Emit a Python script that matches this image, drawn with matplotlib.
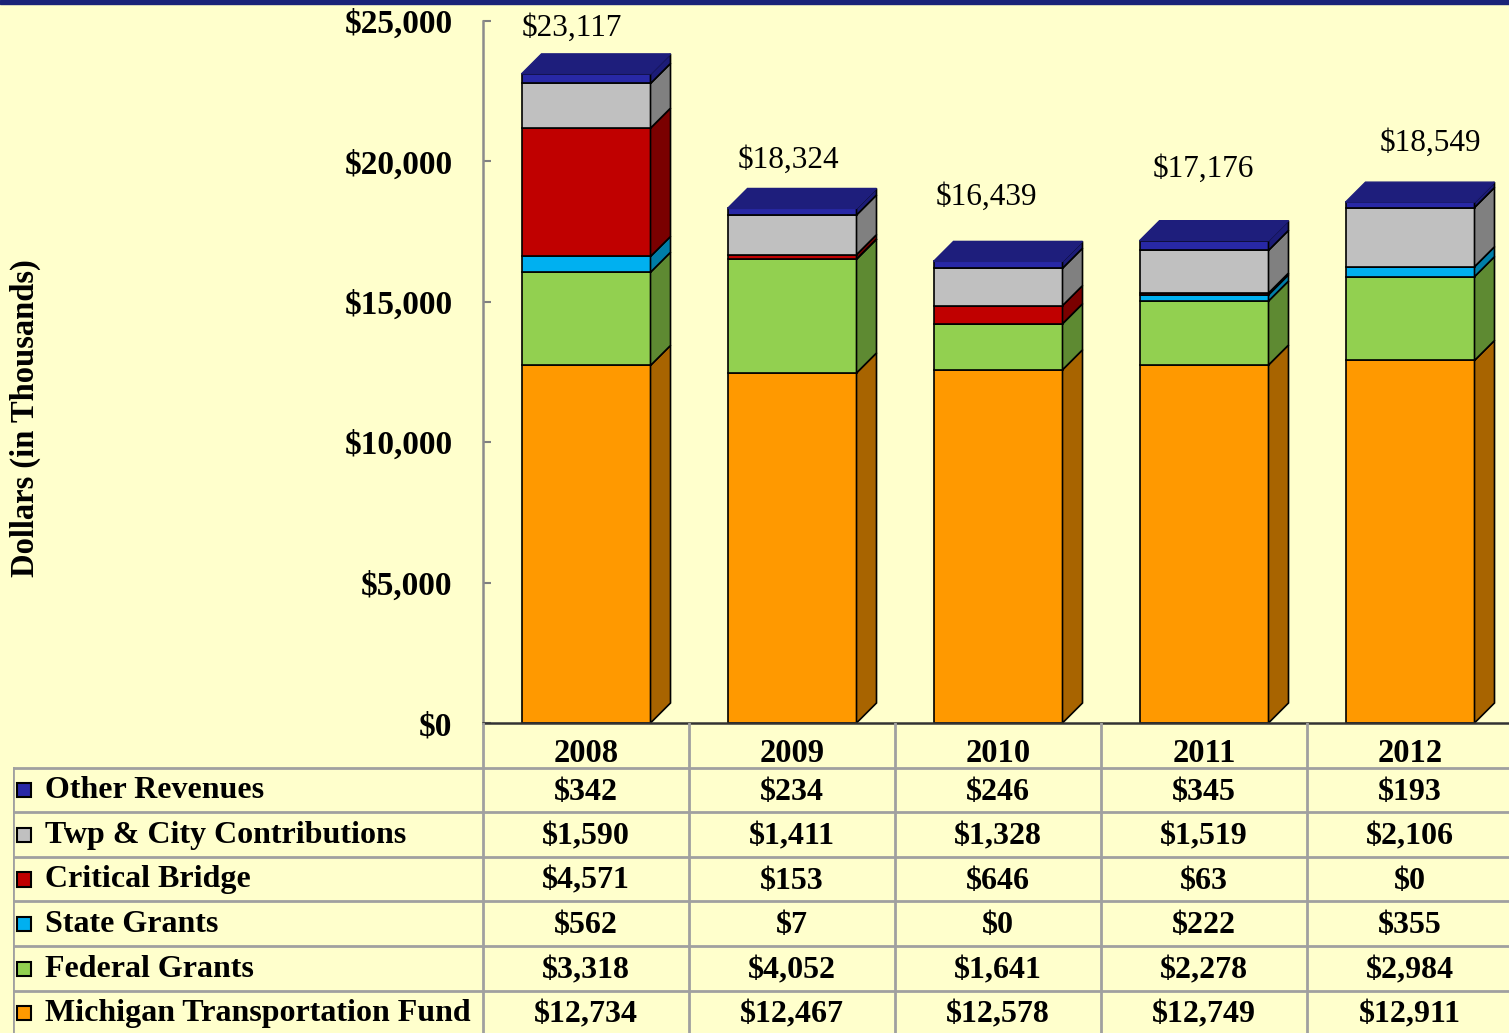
import matplotlib.pyplot as plt
from matplotlib.patches import Polygon, Rectangle

# values in thousands of dollars
years = ['2008', '2009', '2010', '2011', '2012']
michigan_fund = [12734, 12467, 12578, 12749, 12911]
federal_grants = [3318, 4052, 1641, 2278, 2984]
state_grants = [562, 7, 0, 222, 355]
critical_bridge = [4571, 153, 646, 63, 0]
twp_city = [1590, 1411, 1328, 1519, 2106]
other_revenues = [342, 234, 246, 345, 193]

# stacking order bottom -> top: (name, values, front colour, side colour)
series = [
    ('Michigan Transportation Fund', michigan_fund, '#FF9900', '#A86400'),
    ('Federal Grants', federal_grants, '#92D050', '#5E8A32'),
    ('State Grants', state_grants, '#00B0F0', '#007EA8'),
    ('Critical Bridge', critical_bridge, '#C00000', '#7A0000'),
    ('Twp & City Contributions', twp_city, '#C0C0C0', '#808080'),
    ('Other Revenues', other_revenues, '#2828A6', '#1C1C78'),
]
top_colour = '#1E1E7C'
bg = '#FFFFCC'

W, H = 1509, 1033
fig = plt.figure(figsize=(W / 100, H / 100), dpi=100, facecolor=bg)
plt.rcParams['font.family'] = ['Liberation Serif', 'DejaVu Serif']

# pixel layout of the plot area
left_px, floor_px, top_px, col_px = 483, 723, 21, 206
ax = fig.add_axes([left_px / W, (H - floor_px) / H, 5 * col_px / W, (floor_px - top_px) / H])
ax.set_facecolor('none')
ax.set_xlim(0, 5)
ax.set_ylim(0, 25000)

bar_w = 129 / col_px
dx = 20 / col_px
dy = 20 * 25000 / (floor_px - top_px)
xs = [i + 0.5 for i in range(len(years))]

bottoms = [0] * len(years)
for name, vals, front, side in series:
    ax.bar(xs, vals, width=bar_w, bottom=bottoms, color=front, edgecolor='black', linewidth=1.2, zorder=3)
    for x, b, v in zip(xs, bottoms, vals):
        x1 = x + bar_w / 2
        ax.add_patch(Polygon([(x1, b), (x1 + dx, b + dy), (x1 + dx, b + v + dy), (x1, b + v)],
                             closed=True, facecolor=side, edgecolor='black', linewidth=1.2, zorder=3))
    bottoms = [b + v for b, v in zip(bottoms, vals)]

for x, t in zip(xs, bottoms):
    x0 = x - bar_w / 2
    ax.add_patch(Polygon([(x0, t), (x0 + dx, t + dy), (x0 + bar_w + dx, t + dy), (x0 + bar_w, t)],
                         closed=True, facecolor=top_colour, edgecolor=top_colour, linewidth=1, zorder=4))

# total labels, nudged as in the original
label_nudges = [(-14, 46), (-4, 48), (-12, 64), (-1, 71), (20, 59)]
for x, t, (ox, oy) in zip(xs, bottoms, label_nudges):
    ax.annotate(f'${t:,.0f}', (x, t), xytext=(ox, oy), textcoords='offset pixels',
                ha='center', va='center', fontsize=22.5)

ax.set_yticks(range(0, 25001, 5000))
ax.set_yticklabels([f'${v:,}' for v in range(0, 25001, 5000)], fontsize=24, fontweight='bold')
ax.tick_params(axis='y', direction='in', length=6, width=1.5, color='#808080', pad=22)
ax.set_xticks([])
for s in ['top', 'right']:
    ax.spines[s].set_visible(False)
ax.spines['left'].set_color('#8C8C8C')
ax.spines['left'].set_linewidth(1.8)
ax.spines['bottom'].set_color('#333333')
ax.spines['bottom'].set_linewidth(1.8)
ax.spines['bottom'].set_zorder(5)

fig.text(25 / W, 1 - 418 / H, 'Dollars (in Thousands)', rotation=90, ha='center', va='center',
         fontsize=23.5, fontweight='bold')

# data table below the chart
row_px = 44.6
tab_left = 13
tab = fig.add_axes([tab_left / W, (H - floor_px - 7 * row_px) / H, (5 * col_px + left_px - tab_left) / W, 7 * row_px / H])
tab.set_xlim(-(left_px - tab_left) / col_px, 5)
tab.set_ylim(7, 0)
tab.axis('off')
xl = -(left_px - tab_left) / col_px
grid = dict(color='#A0A0A0', linewidth=2, zorder=1)
for r in range(1, 8):
    tab.plot([xl, 5], [r, r], **grid)
for c in range(0, 6):
    tab.plot([c, c], [0, 7], **grid)
tab.plot([xl, xl], [1, 7], **grid)

for i, yr in enumerate(years):
    tab.text(i + 0.5, 0.68, yr, ha='center', va='center', fontsize=23.5, fontweight='bold')

for r, (name, vals, front, side) in enumerate(reversed(series), start=1):
    tab.add_patch(Rectangle((xl + 4 / col_px, r + 0.35), 14 / col_px, 0.32,
                            facecolor=front, edgecolor='black', linewidth=1.5))
    tab.text(xl + 32 / col_px, r + 0.52, name, ha='left', va='center', fontsize=23, fontweight='bold')
    for i, v in enumerate(vals):
        tab.text(i + 0.5, r + 0.55, f'${v:,}', ha='center', va='center', fontsize=23, fontweight='bold')

# thin navy band along the top edge
fig.patches.append(Rectangle((0, 1 - 4 / H), 1, 4 / H, transform=fig.transFigure, color='#1A2378', zorder=10))

fig.savefig('out.png', dpi=100, facecolor=bg)
